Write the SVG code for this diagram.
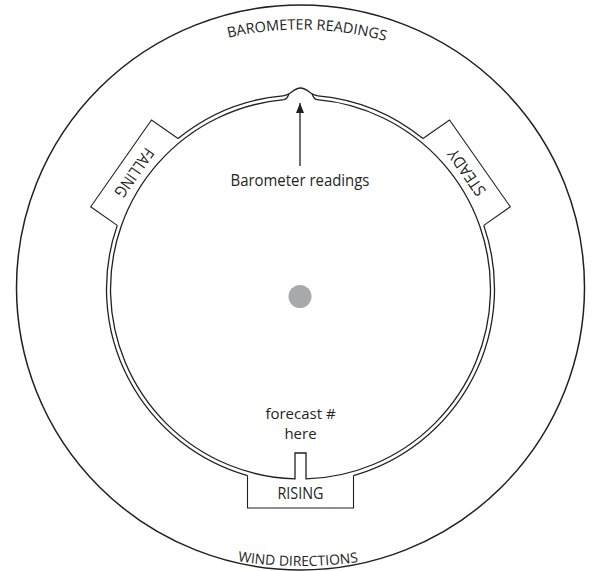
<svg xmlns="http://www.w3.org/2000/svg" width="592" height="571" viewBox="0 0 592 571">
<style>
  .ln{fill:none;stroke:#231f20;stroke-width:1.3}
  .tab{fill:none;stroke:#231f20;stroke-width:1.1;stroke-linejoin:miter}
  .t{font-family:"Open Sans","Liberation Sans",sans-serif;fill:#231f20}
  .tabt{font-size:16px;text-anchor:middle}
</style>
<defs>
  <path id="topArc" d="M -19.5 349.5 A 320 320 0 0 1 620.5 349.5"/>
  <path id="botArc" d="M -119.5 146 A 420 420 0 0 0 720.5 146"/>
  <marker id="arrow" markerUnits="userSpaceOnUse" markerWidth="10" markerHeight="8" refX="10" refY="4" orient="auto">
    <path d="M0,0 L10,4 L0,8 z" fill="#231f20"/>
  </marker>
</defs>
<rect width="592" height="571" fill="#ffffff"/>

<g id="outer-dial">
  <ellipse cx="300.5" cy="287.5" rx="284" ry="282.5" fill="none" stroke="#231f20" stroke-width="1.5"/>
  <text class="t" font-size="14.5" text-anchor="middle"><textPath href="#topArc" startOffset="509">BAROMETER READINGS</textPath></text>
  <text class="t" font-size="14" text-anchor="middle"><textPath href="#botArc" startOffset="657">WIND DIRECTIONS</textPath></text>
</g>

<g id="ring">
  <path class="ln" d="M 483.76 225.36 A 194 194 0 0 1 353.49 475.62"/>
  <path class="ln" d="M 247.51 475.62 A 194 194 0 0 1 117.24 225.36"/>
  <path class="ln" d="M 178.03 138.54 A 194 194 0 0 1 282.98 95.79"/>
  <path class="ln" d="M 318.02 95.79 A 194 194 0 0 1 422.97 138.54"/>
  <path class="ln" d="M 282.98 95.79 C 291 95.5 293 88 300.5 88 C 308 88 310 95.5 318.02 95.79"/>
  <path class="ln" d="M 317 99.72 A 190 190 0 0 1 306 478.92 V 453 H 295 V 478.92 A 190 190 0 0 1 284 99.72 Q 287 99 288.9 94"/>
  <path class="ln" d="M 317 99.72 Q 314 99 312.1 94"/>
</g>

<g id="tab-falling" transform="translate(300.5 289) rotate(125)">
  <polyline class="tab" points="-53,186.62 -53,219 53,219 53,186.62"/>
  <text class="t tabt" x="0" y="208.5" textLength="56" lengthAdjust="spacingAndGlyphs">FALLING</text>
</g>
<g id="tab-steady" transform="translate(300.5 289) rotate(-125)">
  <polyline class="tab" points="-53,186.62 -53,219 53,219 53,186.62"/>
  <text class="t tabt" x="0" y="208.5" textLength="53" lengthAdjust="spacingAndGlyphs">STEADY</text>
</g>
<g id="tab-rising" transform="translate(300.5 289)">
  <polyline class="tab" points="-53,186.62 -53,219 53,219 53,186.62"/>
  <text class="t tabt" x="0" y="210" textLength="46" lengthAdjust="spacingAndGlyphs">RISING</text>
</g>

<g id="center-dot">
  <circle cx="300" cy="296.5" r="11.5" fill="#a7a9ac"/>
</g>

<g id="labels">
  <text class="t" x="300" y="186" font-size="15.5" text-anchor="middle" textLength="139" lengthAdjust="spacingAndGlyphs">Barometer readings</text>
  <text class="t" x="300.5" y="419" font-size="15" text-anchor="middle">forecast #</text>
  <text class="t" x="300.5" y="439" font-size="15" text-anchor="middle">here</text>
</g>

<g id="connectors">
  <line x1="300" y1="166" x2="300" y2="103" stroke="#231f20" stroke-width="1.3" marker-end="url(#arrow)"/>
</g>
</svg>
